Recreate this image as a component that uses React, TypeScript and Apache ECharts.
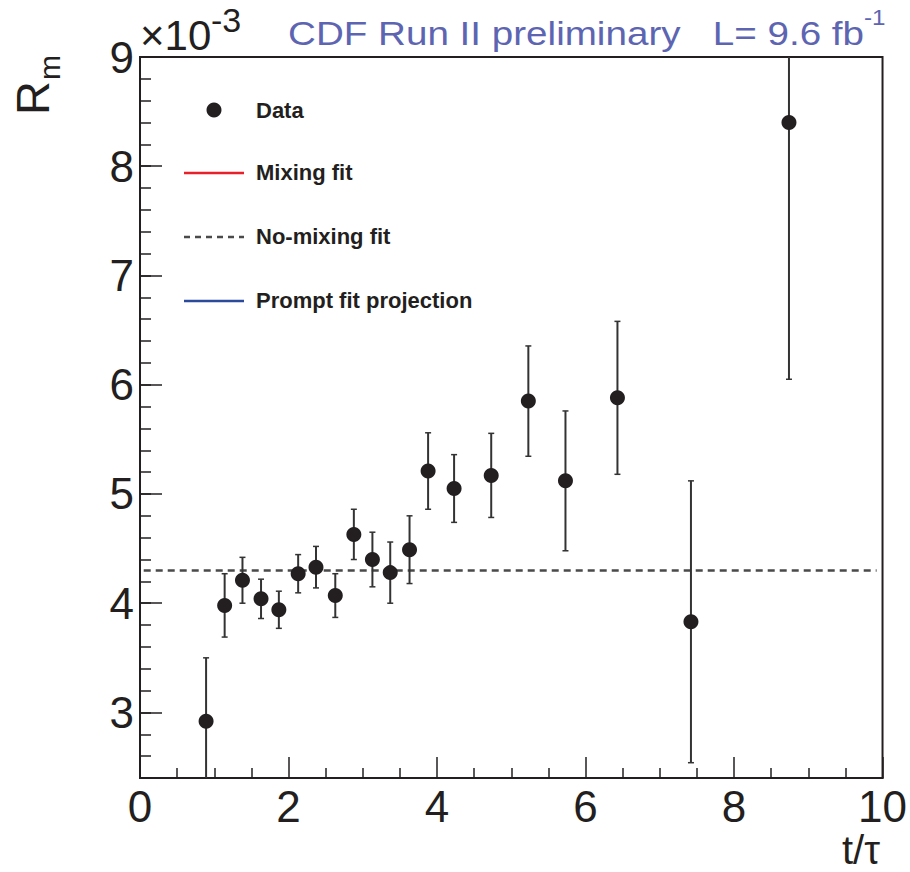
import React, { useEffect, useRef } from "react";
import * as echarts from "echarts";

// ---- data ----
const tValues = [0.89, 1.14, 1.38, 1.63, 1.87, 2.13, 2.37, 2.63, 2.88, 3.13, 3.37, 3.63, 3.88, 4.23, 4.73, 5.23, 5.73, 6.43, 7.42, 8.74];
const rmValues = [2.92, 3.98, 4.21, 4.04, 3.94, 4.27, 4.33, 4.07, 4.63, 4.4, 4.28, 4.49, 5.21, 5.05, 5.17, 5.85, 5.12, 5.88, 3.83, 8.4];
const rmErrors = [0.58, 0.29, 0.21, 0.18, 0.17, 0.175, 0.19, 0.2, 0.23, 0.25, 0.28, 0.31, 0.35, 0.31, 0.385, 0.505, 0.64, 0.7, 1.29, 2.35];
const noMixX = [0.05, 9.92];
const noMixLevel = 4.3;
const yMajorTicks = [3, 4, 5, 6, 7, 8, 9];
const legendLabels = ["Data", "Mixing fit", "No-mixing fit", "Prompt fit projection"];
const titleText = "CDF Run II preliminary   L= 9.6 fb";
const titleSup = "-1";

const FONT = "'Liberation Sans', Arial, Helvetica, sans-serif";
const INK = "#231f20";
const TITLE_COLOR = "#5d65b2";

export default function App() {
  const ref = useRef<HTMLDivElement>(null);

  useEffect(() => {
    document.body.style.margin = "0";
    if (!ref.current) return;
    const chart = echarts.init(ref.current, undefined, { renderer: "svg" });

    const points = tValues.map((t, i) => [t, rmValues[i]]);
    const errs = tValues.map((t, i) => [t, rmValues[i], rmErrors[i]]);

    const yMin = 2.4;
    const yMax = 9;

    const option: any = {
      animation: false,
      backgroundColor: "#ffffff",
      grid: {
        left: 140,
        right: 26,
        top: 57,
        bottom: 94,
        show: true,
        borderColor: INK,
        borderWidth: 2,
        backgroundColor: "transparent",
      },
      xAxis: [
        {
          type: "value",
          min: 0,
          max: 10,
          interval: 2,
          position: "bottom",
          axisLine: { show: true, lineStyle: { color: INK, width: 2 } },
          axisTick: { show: true, inside: true, length: 21, lineStyle: { color: INK, width: 1.5 } },
          minorTick: { show: true, splitNumber: 4, length: 10, lineStyle: { color: INK, width: 1.5 } },
          axisLabel: { show: true, fontSize: 44, color: INK, fontFamily: FONT, margin: 6 },
          splitLine: { show: false },
        },
      ],
      yAxis: [
        {
          type: "value",
          min: yMin,
          max: yMax,
          interval: 0.2,
          position: "left",
          axisLine: { show: true, lineStyle: { color: INK, width: 2 } },
          axisTick: { show: true, inside: true, length: 11, lineStyle: { color: INK, width: 1.5 } },
          axisLabel: { show: false },
          splitLine: { show: false },
        },
        {
          type: "value",
          min: yMin,
          max: yMax,
          position: "left",
          axisLine: { show: false },
          axisTick: { show: true, inside: true, length: 22, customValues: yMajorTicks, lineStyle: { color: INK, width: 1.5 } },
          axisLabel: { show: true, customValues: yMajorTicks, fontSize: 44, color: INK, fontFamily: FONT, margin: 6 },
          splitLine: { show: false },
        },
      ],
      series: [
        {
          name: "No-mixing fit",
          type: "line",
          data: noMixX.map((x) => [x, noMixLevel]),
          showSymbol: false,
          symbol: "none",
          lineStyle: { color: "#4a4a4a", width: 2.6, type: [7, 5] },
          z: 2,
        },
        {
          name: "errors",
          type: "custom",
          data: errs,
          z: 3,
          renderItem: (params: any, api: any) => {
            const x = api.value(0);
            const y = api.value(1);
            const e = api.value(2);
            const cs = params.coordSys;
            const top = cs.y;
            const bottom = cs.y + cs.height;
            const p1 = api.coord([x, y + e]);
            const p2 = api.coord([x, y - e]);
            const yTop = Math.max(p1[1], top);
            const yBot = Math.min(p2[1], bottom);
            const style = { stroke: "#333333", lineWidth: 2 };
            const children: any[] = [
              { type: "line", shape: { x1: p1[0], y1: yTop, x2: p1[0], y2: yBot }, style },
            ];
            const cap = 3;
            if (p1[1] >= top) {
              children.push({ type: "line", shape: { x1: p1[0] - cap, y1: yTop, x2: p1[0] + cap, y2: yTop }, style: { stroke: "#333333", lineWidth: 1.5 } });
            }
            if (p2[1] <= bottom) {
              children.push({ type: "line", shape: { x1: p1[0] - cap, y1: yBot, x2: p1[0] + cap, y2: yBot }, style: { stroke: "#333333", lineWidth: 1.5 } });
            }
            return { type: "group", children };
          },
        },
        {
          name: "Data",
          type: "scatter",
          data: points,
          symbol: "circle",
          symbolSize: 15,
          itemStyle: { color: INK, opacity: 1 },
          z: 4,
        },
      ],
      graphic: [
        // title
        {
          type: "text",
          x: 288,
          y: 34,
          scaleX: 1.17,
          style: { text: titleText, fontSize: 33, fontFamily: FONT, fill: TITLE_COLOR, align: "left", verticalAlign: "middle" },
        },
        {
          type: "text",
          x: 864,
          y: 17,
          scaleX: 1.1,
          style: { text: titleSup, fontSize: 22, fontFamily: FONT, fill: TITLE_COLOR, align: "left", verticalAlign: "middle" },
        },
        // x10^-3
        {
          type: "text",
          x: 140,
          y: 35,
          style: { text: "×10", fontSize: 42, fontFamily: FONT, fill: INK, align: "left", verticalAlign: "middle" },
        },
        {
          type: "text",
          x: 211,
          y: 20,
          style: { text: "-3", fontSize: 34, fontFamily: FONT, fill: INK, align: "left", verticalAlign: "middle" },
        },
        // y axis title R_m
        {
          type: "text",
          x: 32,
          y: 115,
          rotation: Math.PI / 2,
          style: { text: "R", fontSize: 47, fontFamily: FONT, fill: INK, align: "left", verticalAlign: "middle" },
        },
        {
          type: "text",
          x: 49,
          y: 80,
          rotation: Math.PI / 2,
          style: { text: "m", fontSize: 30, fontFamily: FONT, fill: INK, align: "left", verticalAlign: "middle" },
        },
        // x axis title
        {
          type: "text",
          x: 880,
          y: 850,
          style: { text: "t/τ", fontSize: 40, fontFamily: FONT, fill: INK, align: "right", verticalAlign: "middle" },
        },
        // legend
        { type: "circle", shape: { cx: 214, cy: 110, r: 7.5 }, style: { fill: INK } },
        { type: "line", shape: { x1: 184, y1: 173, x2: 244, y2: 173 }, style: { stroke: "#e8202a", lineWidth: 2.6 } },
        { type: "line", shape: { x1: 184, y1: 237, x2: 244, y2: 237 }, style: { stroke: "#4a4a4a", lineWidth: 2.4, lineDash: [6, 5] } },
        { type: "line", shape: { x1: 184, y1: 301, x2: 244, y2: 301 }, style: { stroke: "#2c4a9c", lineWidth: 2.6 } },
        ...legendLabels.map((label, i) => ({
          type: "text",
          x: 256,
          y: [110, 172, 236, 300][i],
          style: { text: label, fontSize: 22, fontWeight: "bold", fontFamily: FONT, fill: INK, align: "left", verticalAlign: "middle" },
        })),
      ],
    };

    chart.setOption(option);
    return () => chart.dispose();
  }, []);

  return <div ref={ref} style={{ width: 910, height: 872 }} />;
}
